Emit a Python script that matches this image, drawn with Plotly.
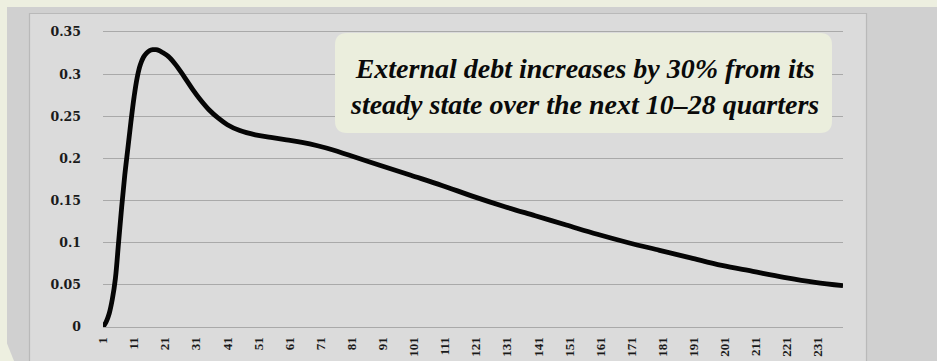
import plotly.graph_objects as go

# Response of external debt (deviation from steady state), by quarter
quarters = [1, 2, 3, 4, 5, 6, 7, 8, 9, 10, 11, 12, 13, 14, 15, 16, 17, 18, 19, 20,
            22, 24, 26, 28, 30, 32, 35, 38, 41, 45, 50, 55, 60, 65, 70, 75, 80,
            90, 100, 110, 120, 130, 140, 150, 160, 170, 180, 190, 200, 210, 220,
            230, 239]
debt_response = [0.0, 0.006, 0.016, 0.033, 0.058, 0.1, 0.142, 0.18, 0.212, 0.244,
                 0.273, 0.296, 0.311, 0.32, 0.325, 0.328, 0.329, 0.329, 0.328,
                 0.326, 0.321, 0.313, 0.303, 0.292, 0.281, 0.271, 0.258, 0.248,
                 0.24, 0.233, 0.228, 0.225, 0.222, 0.219, 0.215, 0.21, 0.204,
                 0.192, 0.18, 0.168, 0.155, 0.143, 0.132, 0.121, 0.11, 0.1, 0.091,
                 0.082, 0.073, 0.066, 0.059, 0.053, 0.049]

x_ticks = list(range(1, 232, 10))
y_ticks = [0, 0.05, 0.1, 0.15, 0.2, 0.25, 0.3, 0.35]
y_tick_text = ["0", "0.05", "0.1", "0.15", "0.2", "0.25", "0.3", "0.35"]

note_lines = ["External debt increases by 30% from its",
              "steady state over the next 10\u201328 quarters"]

W, H = 937, 361
PL, PR, PT, PB = 103, 843, 32, 327  # plot area in pixels

BEIGE = "#edefe0"
PANEL = "#d0d0d0"
INNER = "#dbdbdb"
BORDER = "#b9b9b9"
GRID = "#a9a9a9"
SERIF = "Liberation Serif, Times New Roman, Times, serif"
Y_TICK_FONT = "DejaVu Serif, serif"


def px(x):
    return (x - PL) / (PR - PL)


def py(y):
    return (PB - y) / (PB - PT)


def rounded_rect(x0, y0, x1, y1, r):
    pts = [
        f"M {px(x0 + r)},{py(y0)}",
        f"L {px(x1 - r)},{py(y0)}",
        f"Q {px(x1)},{py(y0)} {px(x1)},{py(y0 + r)}",
        f"L {px(x1)},{py(y1 - r)}",
        f"Q {px(x1)},{py(y1)} {px(x1 - r)},{py(y1)}",
        f"L {px(x0 + r)},{py(y1)}",
        f"Q {px(x0)},{py(y1)} {px(x0)},{py(y1 - r)}",
        f"L {px(x0)},{py(y0 + r)}",
        f"Q {px(x0)},{py(y0)} {px(x0 + r)},{py(y0)}",
        "Z",
    ]
    return " ".join(pts)


fig = go.Figure()

fig.add_trace(go.Scatter(
    x=quarters, y=debt_response, mode="lines",
    line=dict(color="#050505", width=4.8, shape="spline", smoothing=1.0),
    hoverinfo="skip", showlegend=False,
))

shapes = [
    # grey panel behind the chart
    dict(type="rect", xref="paper", yref="paper", layer="below",
         x0=px(7), x1=px(W + 5), y0=py(7), y1=py(H + 5),
         fillcolor=PANEL, line=dict(width=0)),
    # clipped bottom-left corner of the panel
    dict(type="path", xref="paper", yref="paper", layer="below",
         path=f"M {px(6)},{py(341)} L {px(16)},{py(H + 5)} L {px(6)},{py(H + 5)} Z",
         fillcolor=BEIGE, line=dict(width=0)),
    # chart box
    dict(type="rect", xref="paper", yref="paper", layer="below",
         x0=px(29.5), x1=px(866.5), y0=py(13.5), y1=py(H + 5),
         fillcolor=INNER, line=dict(color=BORDER, width=1.2)),
    # note box with rounded corners
    dict(type="path", xref="paper", yref="paper", layer="above",
         path=rounded_rect(335, 33, 832, 133, 12),
         fillcolor="#ebeedd", line=dict(width=0)),
]

fig.update_layout(
    width=W, height=H,
    margin=dict(l=PL, r=W - PR, t=PT, b=H - PB, pad=0, autoexpand=False),
    paper_bgcolor=BEIGE,
    plot_bgcolor="rgba(0,0,0,0)",
    shapes=shapes,
    showlegend=False,
    annotations=[dict(
        xref="paper", yref="paper", x=px(584), y=py(86),
        xanchor="center", yanchor="middle", showarrow=False,
        text="<br>".join("<b><i>%s</i></b>" % s for s in note_lines),
        align="center",
        font=dict(family=SERIF, size=28, color="#0a0a0a"),
    )],
)

fig.update_xaxes(
    range=[1, 239], tickmode="array", tickvals=x_ticks,
    ticktext=["<b>%d</b>" % v for v in x_ticks], tickangle=-90,
    showgrid=False, zeroline=False, showline=True, mirror=True,
    linecolor=GRID, linewidth=1, ticks="", ticklabelstandoff=4,
    automargin=False,
    tickfont=dict(family=SERIF, size=13, color="#1a1a1a"),
)
fig.update_yaxes(
    range=[0, 0.35], tickmode="array", tickvals=y_ticks,
    ticktext=["<b>%s</b>" % t for t in y_tick_text],
    showgrid=True, gridcolor=GRID, gridwidth=1, zeroline=False,
    showline=False, ticks="", ticklabelstandoff=21, automargin=False,
    tickfont=dict(family=Y_TICK_FONT, size=12.5, color="#1a1a1a"),
)

fig.write_html("out.html")
